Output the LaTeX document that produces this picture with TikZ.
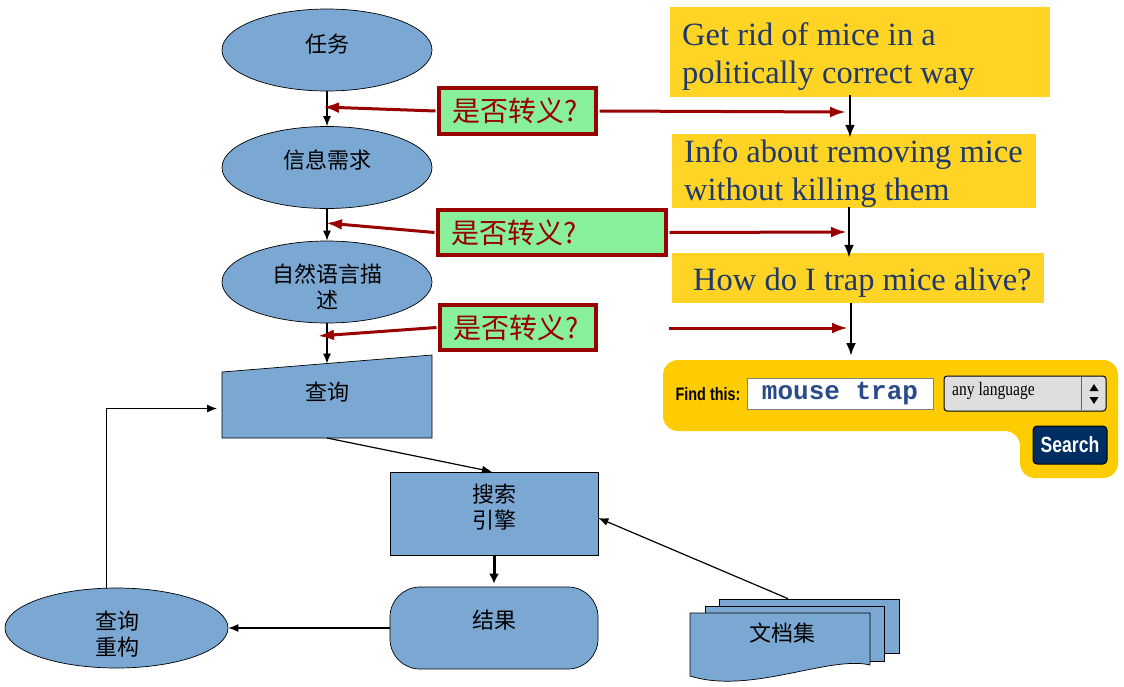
\documentclass[tikz,border=0pt]{standalone}
\usepackage{fontspec}
\setmainfont{Liberation Serif}
\newfontfamily\cjk{Noto Sans CJK SC}
\newfontfamily\condsans[FakeStretch=0.8]{Liberation Sans}
\newfontfamily\condserif[FakeStretch=0.82]{Liberation Serif}
\newfontfamily\monofnt{Liberation Mono}
\usetikzlibrary{shapes.geometric,arrows.meta,calc}
\definecolor{nodeblue}{RGB}{123,167,211}
\definecolor{dred}{RGB}{153,0,0}
\definecolor{lgreen}{RGB}{136,240,152}
\definecolor{ybox}{RGB}{255,212,36}
\definecolor{ywidget}{RGB}{255,204,0}
\definecolor{tblue}{RGB}{31,56,110}
\definecolor{mblue}{RGB}{42,74,138}
\definecolor{navy}{RGB}{0,45,98}
\definecolor{lgray}{RGB}{222,222,222}
\begin{document}
\begin{tikzpicture}[x=1pt,y=-1pt,
  flow/.style={draw=black, fill=nodeblue, line width=0.7pt, inner sep=0pt},
  ell/.style={flow, ellipse, minimum width=210pt, minimum height=82pt},
  rbox/.style={flow, rectangle, minimum width=208pt, minimum height=83pt},
  cjktext/.style={font=\cjk\fontsize{22}{26}\selectfont, align=center, inner sep=0pt},
  qbox/.style={draw=dred, line width=3.5pt, fill=lgreen, text=dred, font=\cjk\fontsize{28}{32}\selectfont, inner xsep=13pt, inner ysep=0pt, align=left},
  yfill/.style={fill=ybox, inner sep=0pt},
  ytext/.style={text=tblue, font=\fontsize{32.5}{38}\selectfont, align=left, anchor=west, inner sep=0pt},
  blkarr/.style={-{Latex[length=10pt,width=8pt]}, line width=1.2pt},
  thickarr/.style={-{Latex[length=10pt,width=10pt]}, line width=3pt},
  rblk/.style={-{Latex[length=13pt,width=10pt]}, line width=2.5pt},
  redarr/.style={dred, line width=3pt, -{Latex[length=16pt,width=11pt]}},
]
\useasboundingbox (0,0) rectangle (1124,686);
\fill[white] (0,0) rectangle (1124,686);

% ---------- flow chart ----------
\node[ell] (t1) at (327,50) {};
\node[cjktext] (t1t) at (327,44) {任务};
\node[ell] (t2) at (327,167.5) {};
\node[cjktext] (t2t) at (327,160) {信息需求};
\node[ell] (t3) at (327,282) {};
\node[cjktext] (t3t) at (327,287) {自然语言描\\述};

\filldraw[fill=nodeblue, draw=black, line width=0.7pt] (222,372) -- (432,355) -- (432,438) -- (222,438) -- cycle;
\node[cjktext] (q) at (327,392) {查询};
\coordinate (qtop) at (327,363.5);
\coordinate (qbot) at (327,438);
\coordinate (qleft) at (222,408.5);

\node[rbox] (se) at (494,513.5) {};
\node[cjktext] (set) at (494,507) {搜索\\引擎};

\node[flow, rectangle, rounded corners=30pt, minimum width=208pt, minimum height=82pt] (res) at (494,628) {};
\node[cjktext] (rest) at (494,620) {结果};

\node[flow, ellipse, minimum width=223pt, minimum height=80pt] (qr) at (116.5,628) {};
\node[cjktext] (qrt) at (117,634) {查询\\重构};

% document stack
\node[flow, rectangle, minimum width=180pt, minimum height=54pt] (d3) at (809,626) {};
\node[flow, rectangle, minimum width=179pt, minimum height=55pt] (d2) at (794.5,633.5) {};
\filldraw[fill=nodeblue, draw=black, line width=0.7pt] (690,613) -- (870,613) -- (870,665) .. controls (830,655) and (750,695) .. (690,676) -- cycle;
\node[cjktext] (dt) at (782,633) {文档集};

% flow connectors
\draw[blkarr] (t1) -- (t2);
\draw[blkarr] (t2) -- (t3);
\draw[blkarr] (t3) -- (qtop);
\draw[blkarr] (qbot) -- ($(se.north)+(-2,0)$);
\draw[thickarr, shorten >=3pt] (se.south) -- (res.north);
\draw[blkarr] (res.west) -- (qr.east);
\draw[blkarr, shorten >=5pt] ($(qr.north)+(-10,0)$) |- (qleft);
\draw[blkarr] ($(d3.north)+(-21,0)$) -- ($(se.east)+(0,4.5)$);

% ---------- red arrows and question boxes ----------
\coordinate (l1) at (323,107);
\coordinate (r1) at (846,112);
\coordinate (l2) at (326,223);
\coordinate (r2) at (847,232);
\coordinate (l3) at (318,336);
\coordinate (s3) at (669,328);
\coordinate (r3) at (848,328);

\node[qbox, minimum width=157pt, minimum height=46pt, text width=131pt] (qb1) at (517.5,111) {是否转义?};
\node[qbox, minimum width=228pt, minimum height=45pt, text width=202pt] (qb2) at (552,232.5) {是否转义?};
\node[qbox, minimum width=156pt, minimum height=45pt, text width=130pt] (qb3) at (518,327.5) {是否转义?};

\draw[redarr] ($(qb1.west)+(-1.75,0)$) -- (l1);
\draw[redarr] ($(qb1.east)+(1.75,0)$) -- (r1);
\draw[redarr] ($(qb2.west)+(-1.75,0)$) -- (l2);
\draw[redarr] ($(qb2.east)+(1.75,0)$) -- (r2);
\draw[redarr] ($(qb3.west)+(-1.75,0)$) -- (l3);
\draw[redarr] (s3) -- (r3);

% ---------- yellow boxes ----------
\node[yfill, minimum width=380pt, minimum height=90pt] (y1) at (860,52) {};
\node[ytext] (y1t) at (682,57) {Get rid of mice in a\\politically correct way};
\node[yfill, minimum width=364pt, minimum height=74pt] (y2) at (854,171) {};
\node[ytext] (y2t) at (684,174) {Info about removing mice\\without killing them};
\node[yfill, minimum width=372pt, minimum height=50pt] (y3) at (858,278) {};
\node[ytext] (y3t) at (693,283) {How do I trap mice alive?};

\coordinate (x1) at (850,0);
\coordinate (x2) at (849,0);
\coordinate (w1) at (851,356);
\draw[rblk, shorten <=-2pt, shorten >=-4pt] (y1.south -| x1) -- (y2.north -| x1);
\draw[rblk, shorten <=-1pt, shorten >=-5pt] (y2.south -| x2) -- (y3.north -| x2);
\draw[rblk] (y3.south -| w1) -- (w1);

% ---------- search widget ----------
\fill[ywidget, rounded corners=15pt] (663,360) -- (1118,360) -- (1118,478) -- (1020,478) -- (1020,431) -- (663,431) -- cycle;
\node[font=\condsans\bfseries\fontsize{18}{20}\selectfont, inner sep=0pt] (find) at (708,394) {Find this:};
\node[fill=white, draw=gray, line width=1pt, minimum width=186pt, minimum height=31pt, inner sep=0pt, text=mblue, font=\monofnt\bfseries\fontsize{26}{28}\selectfont] (inp) at (840,393.5) {mouse trap};
\node[fill=lgray, draw=black, line width=1pt, rounded corners=3pt, minimum width=162pt, minimum height=35pt, inner sep=0pt] (dd) at (1025,393.5) {};
\draw[line width=0.8pt, black!60] (1081,377) -- (1081,410);
\node[font=\condserif\fontsize{19}{21}\selectfont, anchor=west, inner sep=0pt] (ddt) at (952,391) {any language};
\fill[black] (1089.5,391) -- (1098.5,391) -- (1094,384) -- cycle;
\fill[black] (1089.5,397) -- (1098.5,397) -- (1094,404) -- cycle;
\node[fill=navy, draw=black, line width=1pt, rounded corners=4pt, minimum width=74pt, minimum height=38pt, inner sep=0pt, text=white, font=\condsans\bfseries\fontsize{22}{24}\selectfont] (sb) at (1070,445) {Search};
\end{tikzpicture}
\end{document}
